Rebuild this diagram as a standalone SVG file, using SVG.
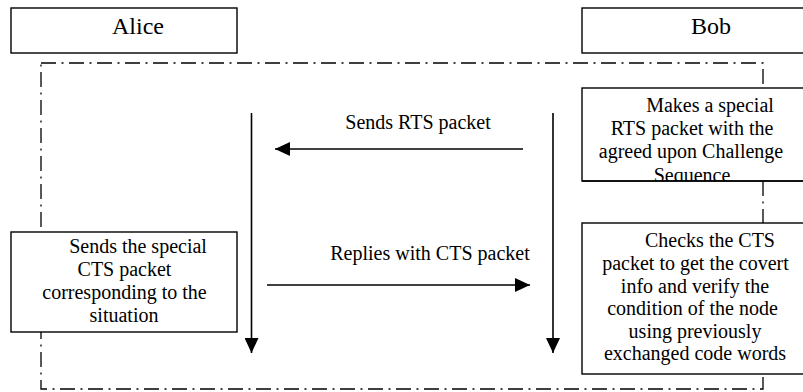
<svg xmlns="http://www.w3.org/2000/svg" width="803" height="392" viewBox="0 0 803 392">
<style>
  text { font-family: "Liberation Serif", "Times New Roman", serif; font-size: 20px; fill: #000; }
  .hdr { font-size: 24px; }
  .box { fill: #fff; stroke: #000; stroke-width: 1.4; }
  .frame { fill: none; stroke: #000; stroke-width: 1.3; stroke-dasharray: 15 5.5 2 5.5; }
  .life { stroke: #000; stroke-width: 1.6; fill: none; }
  .msg { stroke: #000; stroke-width: 1.5; fill: none; }
</style>
<defs>
  <marker id="head" markerUnits="userSpaceOnUse" markerWidth="15" markerHeight="14" refX="15" refY="7" orient="auto">
    <path d="M0,0 L15,7 L0,14 z" fill="#000"/>
  </marker>
  <clipPath id="clipBob1"><rect x="582" y="88" width="240" height="93"/></clipPath>
</defs>
<rect width="803" height="392" fill="#fff"/>

<g id="frame">
  <rect class="frame" x="41" y="63" width="722" height="326"/>
</g>

<g id="connectors">
  <line class="life" x1="251.5" y1="113" x2="251.5" y2="353" marker-end="url(#head)"/>
  <line class="life" x1="553" y1="113" x2="553" y2="353" marker-end="url(#head)"/>
  <line class="msg" x1="523" y1="149" x2="275" y2="149" marker-end="url(#head)"/>
  <text x="418" y="129" text-anchor="middle">Sends RTS packet</text>
  <line class="msg" x1="267" y1="285" x2="530" y2="285" marker-end="url(#head)"/>
  <text x="430" y="260" text-anchor="middle">Replies with CTS packet</text>
</g>

<g id="alice">
  <rect class="box" x="11" y="8" width="226" height="45"/>
  <text class="hdr" x="138" y="34" text-anchor="middle">Alice</text>
</g>

<g id="bob">
  <rect class="box" x="582" y="8" width="240" height="45"/>
  <text class="hdr" x="711" y="34" text-anchor="middle">Bob</text>
</g>

<g id="bob-makes-rts">
  <rect class="box" x="582" y="88" width="240" height="93"/>
  <g clip-path="url(#clipBob1)" text-anchor="middle">
    <text x="710" y="112">Makes a special</text>
    <text x="692" y="135">RTS packet with the</text>
    <text x="691" y="158">agreed upon Challenge</text>
    <text x="692" y="182">Sequence</text>
  </g>
  <line x1="582" y1="181" x2="803" y2="181" stroke="#000" stroke-width="1.4"/>
</g>

<g id="alice-sends-cts">
  <rect class="box" x="11" y="232" width="226" height="100"/>
  <g text-anchor="middle">
    <text x="138" y="253">Sends the special</text>
    <text x="124.5" y="276">CTS packet</text>
    <text x="124.5" y="299">corresponding to the</text>
    <text x="124" y="322">situation</text>
  </g>
</g>

<g id="bob-checks-cts">
  <rect class="box" x="582" y="223" width="240" height="151"/>
  <g text-anchor="middle">
    <text x="710" y="247">Checks the CTS</text>
    <text x="695.5" y="270">packet to get the covert</text>
    <text x="695" y="292.5">info and verify the</text>
    <text x="692.5" y="315">condition of the node</text>
    <text x="695" y="337.5">using previously</text>
    <text x="695" y="360">exchanged code words</text>
  </g>
</g>
</svg>
